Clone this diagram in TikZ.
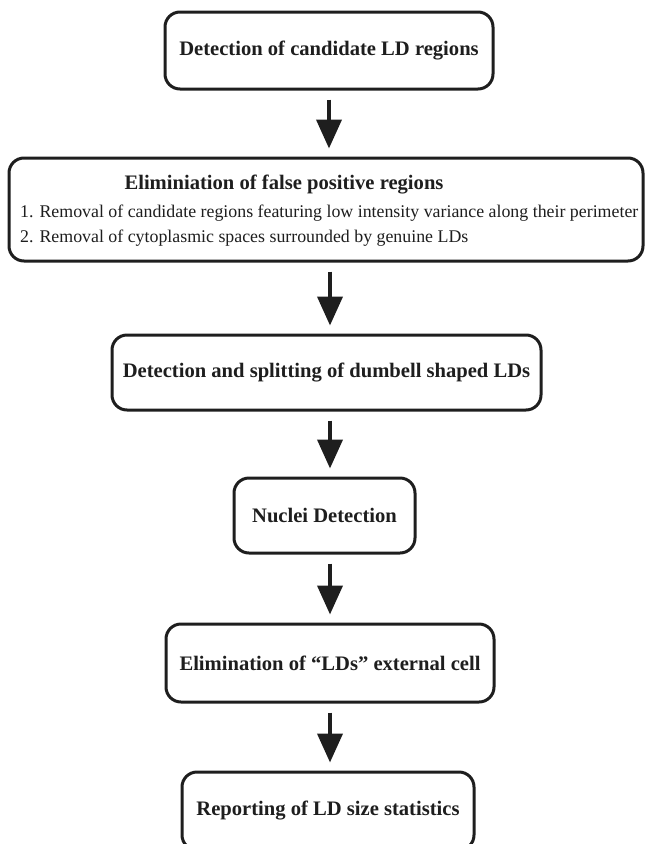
\documentclass[tikz,border=0pt]{standalone}
\usepackage{fontspec}
\setmainfont{Liberation Serif}
\usetikzlibrary{arrows.meta}
\definecolor{ink}{HTML}{1E1E1E}
\tikzset{
  box/.style={draw=ink, line width=3pt, rounded corners=15pt, fill=white, inner sep=0pt},
  ttl/.style={font=\fontsize{20.6}{24}\selectfont\bfseries, text=ink},
  subttl/.style={font=\fontsize{20.6}{24}\selectfont\bfseries, text=ink, anchor=base},
  itm/.style={font=\fontsize{17.85}{22}\selectfont, text=ink, anchor=base west, inner sep=0pt},
  flow/.style={draw=ink, line width=4pt, -{Triangle[width=25pt,length=29pt]}, shorten <=9pt, shorten >=8pt}
}
\begin{document}
\begin{tikzpicture}[x=1pt,y=-1pt]
\useasboundingbox (0,0) rectangle (646,844);
\node[box, minimum width=328pt, minimum height=77pt] (b1) at (329,50.5) {};
\node[ttl] at (b1.center) {Detection of candidate LD regions};
\node[box, minimum width=634pt, minimum height=103pt] (b2) at (326,209.5) {};
\node[subttl] (t2) at (284,189) {Eliminiation of false positive regions};
\node[itm] (i1) at (20,217) {1. Removal of candidate regions featuring low intensity variance along their perimeter};
\node[itm] (i2) at (20,242) {2. Removal of cytoplasmic spaces surrounded by genuine LDs};
\node[box, minimum width=429pt, minimum height=75pt] (b3) at (326.5,372.5) {};
\node[ttl] at (b3.center) {Detection and splitting of dumbell shaped LDs};
\node[box, minimum width=181pt, minimum height=75pt] (b4) at (324.5,515.5) {};
\node[ttl] at (b4.center) {Nuclei Detection};
\node[box, minimum width=328pt, minimum height=78pt] (b5) at (330,663) {};
\node[ttl] at (b5.center) {Elimination of “LDs” external cell};
\node[box, minimum width=292pt, minimum height=78pt] (b6) at (328,811) {};
\node[ttl] at (b6.center) {Reporting of LD size statistics};
\draw[flow] (b1.south) -- (b1.south |- b2.north);
\draw[flow] ([xshift=4pt]b2.south) -- ([xshift=4pt]b2.south |- b3.north);
\draw[flow] ([xshift=3.5pt]b3.south) -- ([xshift=3.5pt]b3.south |- b4.north);
\draw[flow] ([xshift=5.5pt]b4.south) -- ([xshift=5.5pt]b4.south |- b5.north);
\draw[flow] (b5.south) -- (b5.south |- b6.north);
\end{tikzpicture}
\end{document}
